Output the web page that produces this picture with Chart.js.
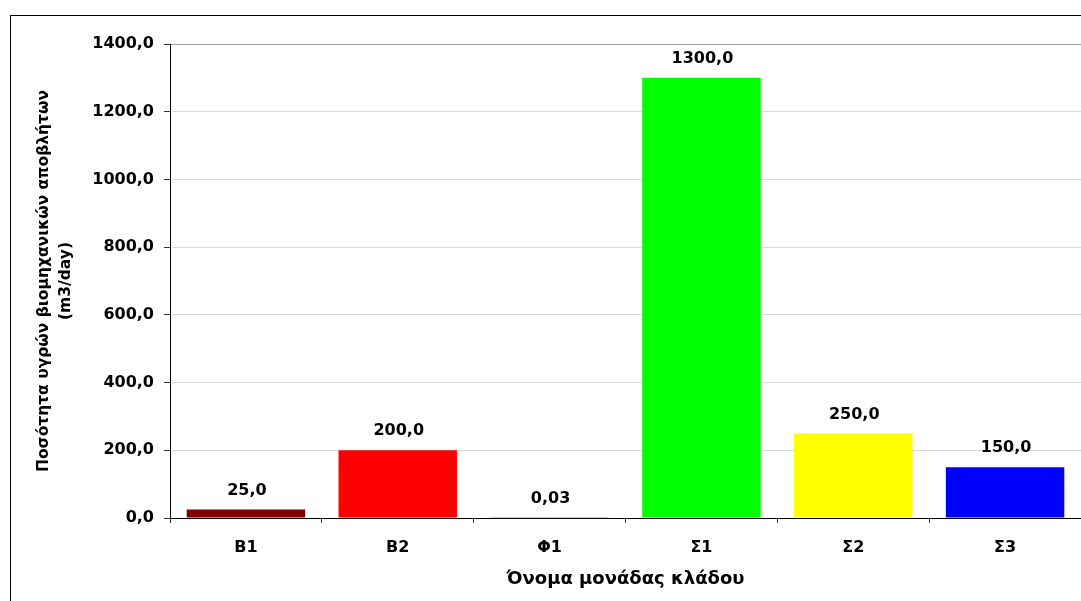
<!DOCTYPE html>
<html>
<head>
<meta charset="utf-8">
<script src="https://cdn.jsdelivr.net/npm/chart.js@4/dist/chart.umd.min.js"></script>
<style>
  html, body { margin: 0; padding: 0; background: #fff; overflow: hidden; }
  #wrap { position: relative; width: 1081px; height: 601px; }
</style>
</head>
<body>
<div id="wrap"><canvas id="c" width="1081" height="601"></canvas></div>
<script>
// Units and their daily liquid industrial waste (m3/day)
const units = ['Β1', 'Β2', 'Φ1', 'Σ1', 'Σ2', 'Σ3'];
const wasteVolume = [25, 200, 0.03, 1300, 250, 150];
const barColors = ['#800000', '#ff0000', '#ff9900', '#00ff00', '#ffff00', '#0000ff'];
const yTickValues = [0, 200, 400, 600, 800, 1000, 1200, 1400];
const yTitle = ['Ποσότητα υγρών βιομηχανικών αποβλήτων', '(m3/day)'];
const xTitle = 'Όνομα μονάδας κλάδου';

const FONT = 'DejaVu Sans';

// Greek decimal formatting: comma separator, one decimal (two for small values)
function fmt(v) {
  const s = Math.abs(v) < 1 && v !== 0 ? v.toFixed(2) : v.toFixed(1);
  return s.replace('.', ',');
}

// White page with a thin frame around the chart
const framePlugin = {
  id: 'frame',
  beforeDraw(chart) {
    const ctx = chart.ctx;
    ctx.save();
    ctx.fillStyle = '#fff';
    ctx.fillRect(0, 0, chart.width, chart.height);
    ctx.strokeStyle = '#000';
    ctx.lineWidth = 1;
    ctx.strokeRect(10.5, 15.5, chart.width + 50, chart.height + 50);
    ctx.restore();
  }
};

// Value labels above each bar
const valueLabels = {
  id: 'valueLabels',
  afterDatasetsDraw(chart) {
    const ctx = chart.ctx;
    const meta = chart.getDatasetMeta(0);
    ctx.save();
    ctx.font = 'bold 16px "' + FONT + '"';
    ctx.fillStyle = '#000';
    ctx.textAlign = 'center';
    ctx.textBaseline = 'middle';
    meta.data.forEach((bar, i) => {
      ctx.fillText(fmt(wasteVolume[i]), bar.x + 1, bar.y - 19);
    });
    ctx.restore();
  }
};

new Chart(document.getElementById('c'), {
  type: 'bar',
  data: {
    labels: units,
    datasets: [{
      data: wasteVolume,
      backgroundColor: barColors,
      borderWidth: 0,
      inflateAmount: 0,
      barPercentage: 0.78,
      categoryPercentage: 1.0
    }]
  },
  options: {
    responsive: false,
    animation: false,
    events: [],
    layout: { padding: { top: 44, left: 0, right: 0, bottom: 0 } },
    plugins: {
      legend: { display: false },
      tooltip: { enabled: false }
    },
    scales: {
      x: {
        z: 1,
        offset: true,
        grid: {
          display: true,
          offset: true,
          drawOnChartArea: false,
          drawTicks: true,
          tickLength: 5,
          tickColor: '#333',
          tickWidth: 1
        },
        border: { display: true, color: '#000', width: 1 },
        ticks: {
          color: '#000',
          font: { family: FONT, size: 16, weight: 'bold' },
          padding: 15,
          maxRotation: 0
        },
        title: {
          display: true,
          text: xTitle,
          color: '#000',
          font: { family: FONT, size: 18, weight: 'bold' },
          padding: { top: 0, bottom: 11 }
        },
        afterFit(scale) { scale.height = 83; }
      },
      y: {
        min: 0,
        max: 1400,
        afterBuildTicks(scale) {
          scale.ticks = yTickValues.map(v => ({ value: v }));
        },
        grid: {
          color: ctx => (ctx.tick && ctx.tick.value === 1400) ? '#a6a6a6' : '#d9d9d9',
          lineWidth: 1,
          drawTicks: true,
          tickLength: 6,
          tickColor: '#333'
        },
        border: { display: true, color: '#000', width: 1 },
        ticks: {
          color: '#000',
          font: { family: FONT, size: 16, weight: 'bold' },
          padding: 10,
          callback: v => fmt(v)
        },
        title: {
          display: true,
          text: yTitle,
          color: '#000',
          font: { family: FONT, size: 15.5, weight: 'bold', lineHeight: '22px' },
          padding: { top: 33, bottom: 0 }
        },
        afterFit(scale) { scale.width = 170; }
      }
    }
  },
  plugins: [framePlugin, valueLabels]
});
</script>
</body>
</html>
